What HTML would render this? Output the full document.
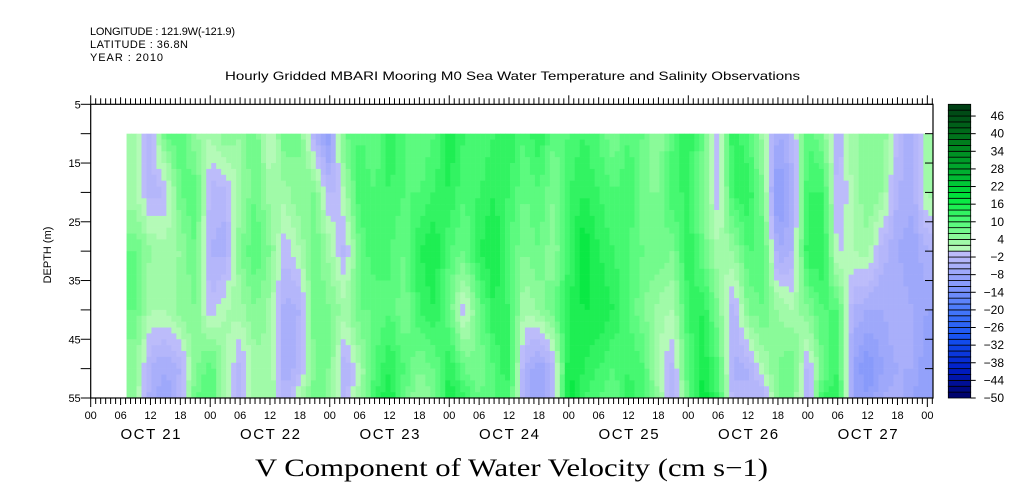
<!DOCTYPE html>
<html><head><meta charset="utf-8"><style>
body{margin:0;background:#fff;width:1009px;height:504px;overflow:hidden}
svg{display:block}
text{font-family:"Liberation Sans",sans-serif;fill:#000}
</style></head><body>
<svg id="chart" width="1009" height="504">
<text x="90" y="35" font-size="11" textLength="145">LONGITUDE : 121.9W(-121.9)</text>
<text x="90" y="48" font-size="11" textLength="98">LATITUDE : 36.8N</text>
<text x="90" y="61" font-size="11" textLength="73">YEAR : 2010</text>
<text x="225" y="80" font-size="12" textLength="575" lengthAdjust="spacingAndGlyphs">Hourly Gridded MBARI Mooring M0 Sea Water Temperature and Salinity Observations</text>
<g id="heat"></g>
<g id="axes"></g>
<g id="cbar"></g>
<text transform="translate(51,255) rotate(-90)" font-size="11" text-anchor="middle">DEPTH (m)</text>
<text x="255" y="476" font-size="25" textLength="513" lengthAdjust="spacingAndGlyphs" style="font-family:'Liberation Serif',serif">V Component of Water Velocity (cm s−1)</text>
</svg>
<script>
// hours since Oct 21 00:00
const times=[];for(let t=6;t<=171;t+=3)times.push(t);
const depths=[10,20,30,40,50,55];
const values=[
[3,2,8,8,4,4],[3,2,8,8,4,4],[-3,-3,4,2,-4,-5],[8,-2,3,2,-6,-8],[10,8,4,5,-4,-3],[4,10,8,6,5,8],
[2,-3,-4,-2,10,10],[6,-3,-5,2,3,2],[4,3,6,3,-3,-3],[8,8,10,6,3,4],[-1,3,6,3,4,4],[8,3,-2,-5,-6,-3],
[6,6,2,-4,-3,2],[-4,6,8,8,6,8],[-10,-3,3,6,6,5],[8,2,-3,3,-4,-3],[10,12,8,8,2,3],[8,10,12,8,10,12],
[14,12,10,10,14,16],[10,10,8,6,10,8],[8,10,14,12,6,4],[10,12,16,14,8,6],[16,14,10,8,14,16],[12,10,8,-2,8,12],
[10,12,14,8,6,8],[12,14,16,14,10,10],[14,12,10,12,14,10],
[10,8,6,2,-4,-4],[14,10,8,4,-8,-8],[8,6,4,8,-3,-3],[10,12,12,14,16,18],[12,14,18,16,14,12],[10,12,14,16,12,10],
[6,10,12,14,10,8],[10,12,10,10,12,14],[8,6,8,6,10,10],[4,6,8,3,2,4],[10,12,6,2,-3,-3],[14,12,14,12,10,8],
[8,6,8,14,16,18],[-3,-2,2,6,10,12],[14,12,4,-4,-5,-3],[10,14,10,6,-4,-4],[3,6,10,8,2,-4],[-6,-12,-6,4,6,6],
[-3,-4,-4,2,8,6],[10,12,14,6,-3,-4],[6,12,14,10,8,12],[-4,-3,-1,10,12,14],[4,2,2,-4,-8,-8],[4,6,3,-6,-12,-10],
[6,4,-3,-6,-8,-6],[-2,-4,-6,-4,-6,-5],[-6,-5,-8,-6,-6,-8],[4,3,-4,-8,-10,-10],[4,3,-4,-8,-10,-10]
];
const cbLabels=[46,40,34,28,22,16,10,4,-2,-8,-14,-20,-26,-32,-38,-44,-50];
const dayLabels=["OCT 21","OCT 22","OCT 23","OCT 24","OCT 25","OCT 26","OCT 27"];
const hourLabels=["00","06","12","18"];

const X0=90.7,XH=4.98,XR=933,YT=104.3,YB=398;
const xs=t=>X0+t*XH;
const ys=d=>YT+(d-5)*(YB-YT)/50;
const NS="http://www.w3.org/2000/svg";
function mk(tag,attrs,parent){const e=document.createElementNS(NS,tag);for(const k in attrs)e.setAttribute(k,attrs[k]);parent.appendChild(e);return e;}
function lerp(a,b,f){return a+(b-a)*f;}
function mix(c1,c2,f){return 'rgb('+c1.map((v,i)=>Math.round(lerp(v,c2[i],f))).join(',')+')';}
const stops=[[-50,[0,0,100]],[-40,[0,30,200]],[-30,[20,80,240]],[-20,[70,120,250]],[-12,[130,150,250]],[-2,[185,185,250]],[0,[190,190,250]],
[0.01,[190,250,190]],[4,[150,250,160]],[10,[80,250,120]],[18,[0,230,60]],[26,[0,180,50]],[36,[0,130,30]],[50,[0,60,20]]];
function color(v){v=Math.max(-50,Math.min(49.9,v));const b=Math.floor(v/2)*2+1;
for(let i=0;i<stops.length-1;i++){if(b>=stops[i][0]&&b<=stops[i+1][0]){return mix(stops[i][1],stops[i+1][1],(b-stops[i][0])/(stops[i+1][0]-stops[i][0]));}}
return b<0?'rgb(0,0,100)':'rgb(0,60,20)';}
function valAt(t,d){
 let i=Math.max(0,Math.min(times.length-2,Math.floor((t-times[0])/3)));
 const ft=Math.max(0,Math.min(1,(t-times[i])/(times[i+1]-times[i])));
 let j=0;while(j<depths.length-2&&d>depths[j+1])j++;
 const fd=Math.max(0,Math.min(1,(d-depths[j])/(depths[j+1]-depths[j])));
 const a=lerp(values[i][j],values[i][j+1],fd),b=lerp(values[i+1][j],values[i+1][j+1],fd);
 return lerp(a,b,ft);}
const heat=document.getElementById('heat');
const tStart=7.2,tEnd=(XR-X0)/XH;
for(let t=tStart;t<tEnd;t+=1){
 for(let d=10;d<55;d+=1){
  const x1=xs(t),x2=Math.min(XR,xs(t+1)+0.3);
  const r=mk('rect',{x:x1,y:ys(d),width:x2-x1,height:ys(d+1)-ys(d)+0.3,fill:color(valAt(t+0.5,d+0.5))},heat);
  
  
 }
}
const ax=document.getElementById('axes');
mk('rect',{x:X0,y:YT,width:XR-X0,height:YB-YT,fill:'none',stroke:'#000','stroke-width':1.2},ax);
const nh=Math.floor(tEnd);
for(let h=0;h<=nh;h++){const x=xs(h);const L=h%24==0?9:(h%6==0?7:6);
 mk('line',{x1:x,x2:x,y1:YT,y2:YT-L,stroke:'#000','stroke-width':1},ax);
 mk('line',{x1:x,x2:x,y1:YB,y2:YB+L,stroke:'#000','stroke-width':1},ax);
 if(h%6==0){const tl=mk('text',{x:x,y:419,'font-size':11,'text-anchor':'middle'},ax);tl.textContent=hourLabels[(h/6)%4];
  }
}
dayLabels.forEach((s,i)=>{const tl=mk('text',{x:xs(i*24+12)-30,y:439,'font-size':15,textLength:60},ax);tl.textContent=s;
 });
for(let d=5;d<=55;d+=5){const y=ys(d);
 mk('line',{x1:X0-10,x2:X0,y1:y,y2:y,stroke:'#000'},ax);
 mk('line',{x1:XR-8,x2:XR,y1:y,y2:y,stroke:'#000'},ax);
 if(d%10==5){const tl=mk('text',{x:X0-10,y:y+4,'font-size':11,'text-anchor':'end'},ax);tl.textContent=d;
  }
}
const cb=document.getElementById('cbar');
const CX=948.3,CW=22.4;
const cy=v=>YT+(50-v)*(YB-YT)/100;
for(let v=-50;v<50;v+=2){
 const r=mk('rect',{x:CX,y:cy(v+2),width:CW,height:cy(v)-cy(v+2),fill:color(v+1),stroke:'#000','stroke-width':0.8},cb);
 
}
cbLabels.forEach(v=>{const y=cy(v);
 mk('line',{x1:CX+CW,x2:CX+CW+5,y1:y,y2:y,stroke:'#000'},cb);
 const tl=mk('text',{x:1004,y:y+4,'font-size':12,'text-anchor':'end'},cb);tl.textContent=String(v).replace('-','−');
 });
</script>
</body></html>
